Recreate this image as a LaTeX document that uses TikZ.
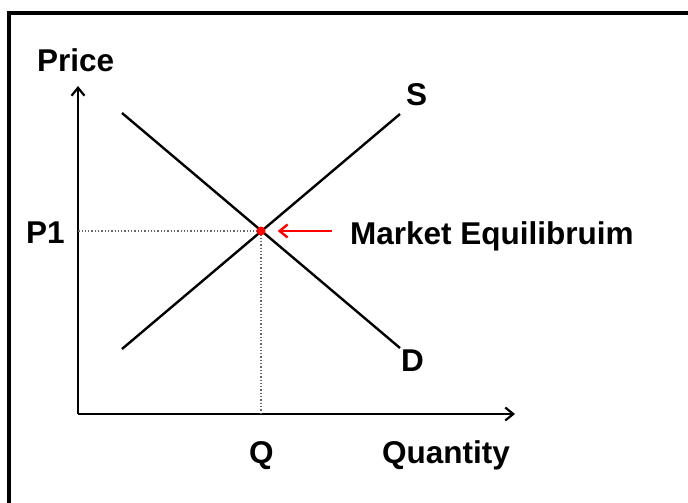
\documentclass[tikz,border=0pt]{standalone}
\usepackage{fontspec}
\setmainfont{Liberation Sans}
\usetikzlibrary{arrows.meta}
\definecolor{eqred}{HTML}{FF0000}
\definecolor{guide}{HTML}{666666}

\begin{document}
\begin{tikzpicture}[x=1pt, y=-1pt, >={Straight Barb[length=8pt, width=13pt]}, line cap=butt,
  lbl/.style={font=\fontsize{31.5}{38}\selectfont\bfseries, inner sep=0pt, anchor=base west},
  axis/.style={->, line width=2.2pt},
  curve/.style={line width=2.4pt},
  guideline/.style={dotted, guide, line width=1.3pt}]
\useasboundingbox (0,0) rectangle (688,503);
\fill[white] (0,0) rectangle (688,503);
% frame
\draw[line width=4pt] (9,503) -- (9,13) -- (688,13);
% axes
\coordinate (o) at (78,414);
\coordinate (ytip) at (78,86);
\coordinate (xtip) at (515,414);
\draw[axis] (o) -- (ytip);
\draw[axis] (o) -- (xtip);
% supply and demand
\coordinate (s0) at (122,349);
\coordinate (s1) at (400,114);
\coordinate (d0) at (122,113);
\coordinate (d1) at (400,348);
\draw[curve] (s0) -- (s1);
\draw[curve] (d0) -- (d1);
% equilibrium
\coordinate (eqpt) at (261,231);
\coordinate (p1) at (78,231);
\coordinate (q) at (261,414);
\draw[guideline] (eqpt) -- (p1);
\draw[guideline] (eqpt) -- (q);
\node[circle, fill=eqred, minimum size=9pt, inner sep=0pt] (eq) at (eqpt) {};
\coordinate (arrtail) at (332,231);
\draw[->, eqred, line width=2.4pt, shorten >=12pt] (arrtail) -- (eq.east);
% labels
\node[lbl] (price) at (37,72) {Price};
\node[lbl] (plabel) at (26,243) {P1};
\node[lbl] (slabel) at (406,106) {S};
\node[lbl] (dlabel) at (401,371) {D};
\node[lbl] (eqlabel) at (350,244) {Market Equilibruim};
\node[lbl] (qlabel) at (249,463) {Q};
\node[lbl] (qtylabel) at (382,463) {Quantity};
\end{tikzpicture}
\end{document}
